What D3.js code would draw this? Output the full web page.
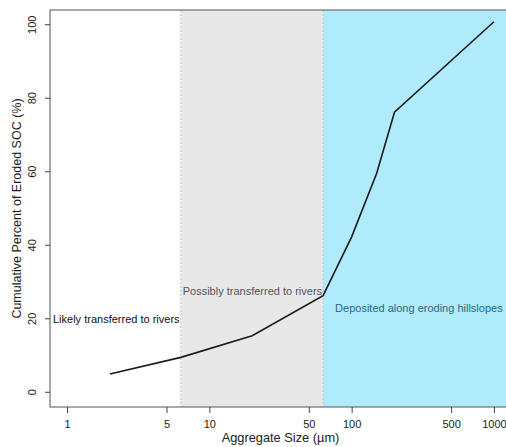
<!DOCTYPE html>
<html>
<head>
<meta charset="utf-8">
<script src="https://cdn.jsdelivr.net/npm/d3@7"></script>
<style>
  body { margin: 0; background: #fff; }
  text { font-family: "Liberation Sans", Arial, sans-serif; }
</style>
</head>
<body>
<svg id="chart" width="506" height="447"></svg>
<script>
// aggregate size (µm) vs cumulative percent of eroded SOC
const sizes = [2, 6.3, 20, 63, 100, 150, 200, 1000];
const cumSOC = [5, 9.5, 15.4, 26.3, 42.3, 59.6, 76.2, 100.8];

const zoneBounds = [6.3, 63];
const zoneLabels = ["Likely transferred to rivers", "Possibly transferred to rivers", "Deposited along eroding hillslopes"];

const xTicks = [1, 5, 10, 50, 100, 500, 1000];
const yTicks = [0, 20, 40, 60, 80, 100];

const svg = d3.select("#chart");
const plotL = 50, plotT = 10, plotR = 511, plotB = 407;

const x = d3.scaleLog().domain([Math.pow(10, -0.12), Math.pow(10, 3.12)]).range([plotL, plotR]);
const y = d3.scaleLinear().domain([-4, 104]).range([plotB, plotT]);

// shaded zones
svg.append("rect")
    .attr("x", x(zoneBounds[0]))
    .attr("y", plotT)
    .attr("width", x(zoneBounds[1]) - x(zoneBounds[0]))
    .attr("height", plotB - plotT)
    .style("fill", "#e8e8e8");

svg.append("rect")
    .attr("x", x(zoneBounds[1]))
    .attr("y", plotT)
    .attr("width", plotR - x(zoneBounds[1]))
    .attr("height", plotB - plotT)
    .style("fill", "#b0ebfb");

svg.selectAll(".bound")
    .data(zoneBounds)
    .join("line")
    .attr("class", "bound")
    .attr("x1", d => x(d)).attr("x2", d => x(d))
    .attr("y1", plotT).attr("y2", plotB)
    .style("stroke", "#c4c4c4")
    .style("stroke-dasharray", "2,2")
    .style("stroke-width", 1);

// line
const line = d3.line()
    .x(d => x(d[0]))
    .y(d => y(d[1]));

svg.append("path")
    .datum(sizes.map((s, i) => [s, cumSOC[i]]))
    .attr("d", line)
    .style("fill", "none")
    .style("stroke", "#1a1a1a")
    .style("stroke-width", 1.6);

// zone labels
svg.append("text")
    .attr("x", plotL + 3).attr("y", y(20))
    .attr("dy", "0.35em")
    .style("font-size", "11px")
    .style("fill", "#111")
    .text(zoneLabels[0]);

svg.append("text")
    .attr("x", x(zoneBounds[1]) - 1).attr("y", y(27.5))
    .attr("dy", "0.35em")
    .attr("text-anchor", "end")
    .style("font-size", "11px")
    .style("fill", "#555")
    .text(zoneLabels[1]);

svg.append("text")
    .attr("x", x(zoneBounds[1]) + 12).attr("y", y(23))
    .attr("dy", "0.35em")
    .style("font-size", "11px")
    .style("fill", "#2c6a80")
    .text(zoneLabels[2]);

// box
svg.append("rect")
    .attr("x", plotL).attr("y", plotT)
    .attr("width", plotR - plotL).attr("height", plotB - plotT)
    .style("fill", "none")
    .style("stroke", "#555")
    .style("stroke-width", 1);

// axes
const xAxis = d3.axisBottom(x).tickValues(xTicks).tickFormat(d3.format("d")).tickSize(6).tickPadding(7);
const gx = svg.append("g").attr("transform", `translate(0,${plotB})`).call(xAxis);
gx.select(".domain").remove();
gx.selectAll("line").style("stroke", "#444");
gx.selectAll("text").style("font-size", "11px").style("fill", "#222");

const yAxis = d3.axisLeft(y).tickValues(yTicks).tickSize(5).tickFormat(d3.format("d"));
const gy = svg.append("g").attr("transform", `translate(${plotL},0)`).call(yAxis);
gy.select(".domain").remove();
gy.selectAll(".tick").attr("transform", null);
gy.selectAll(".tick line")
    .attr("y1", d => y(d)).attr("y2", d => y(d))
    .style("stroke", "#444");
gy.selectAll(".tick text")
    .attr("x", null).attr("y", null).attr("dy", null)
    .attr("text-anchor", "middle")
    .attr("transform", d => `translate(-14,${y(d)}) rotate(-90)`)
    .style("font-size", "11px")
    .style("fill", "#222");

// axis titles
svg.append("text")
    .attr("x", (plotL + plotR) / 2).attr("y", 442)
    .attr("text-anchor", "middle")
    .style("font-size", "12.8px")
    .style("fill", "#222")
    .text("Aggregate Size (µm)");

svg.append("text")
    .attr("transform", `translate(17,${(plotT + plotB) / 2}) rotate(-90)`)
    .attr("text-anchor", "middle")
    .attr("dy", "0.35em")
    .style("font-size", "12.5px")
    .style("fill", "#222")
    .text("Cumulative Percent of Eroded SOC (%)");
</script>
</body>
</html>
